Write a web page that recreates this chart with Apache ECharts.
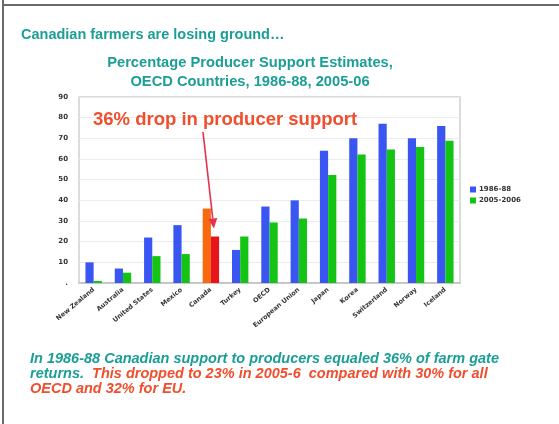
<!DOCTYPE html>
<html>
<head>
<meta charset="utf-8">
<script src="https://cdn.jsdelivr.net/npm/echarts@6/dist/echarts.min.js"></script>
<style>html,body{margin:0;padding:0;background:#fff}#c{width:559px;height:424px}</style>
</head>
<body>
<div id="c"></div>
<script>
var categories = ['New Zealand','Australia','United States','Mexico','Canada','Turkey','OECD','European Union','Japan','Korea','Switzerland','Norway','Iceland'];
var series1986 = [10,7,22,28,36,16,37,40,64,70,77,70,76];
var series2005 = [1,5,13,14,22.5,22.5,29.3,31.2,52.2,62.2,64.6,65.8,68.8];
var seriesNames = ['1986-88','2005-2006'];
var yTicks = [0,10,20,30,40,50,60,70,80,90];

var BLUE = '#3a56f2', GREEN = '#14c414', ORANGE = '#f8680e', RED = '#e8141c';
var TEAL = '#1a9e96', RED_T = '#f04e2c';
var FONT = '"Liberation Sans", Arial, sans-serif';

var chart = echarts.init(document.getElementById('c'), null, {renderer: 'canvas'});

function dataWithHighlight(arr, color) {
  return arr.map(function (v, i) {
    return categories[i] === 'Canada' ? {value: v, itemStyle: {color: color}} : v;
  });
}

var option = {
  backgroundColor: '#fff',
  animation: false,
  textStyle: {fontFamily: FONT},
  grid: {left: 79, right: 99, top: 97, bottom: 141, show: true, borderColor: '#d0d0d0', borderWidth: 1.5, backgroundColor: 'transparent'},
  legend: {
    orient: 'vertical', left: 465, top: 181, itemWidth: 6, itemHeight: 6, itemGap: 4,
    icon: 'rect',
    textStyle: {fontSize: 7, fontWeight: 'bold', color: '#333', fontFamily: '"DejaVu Sans", sans-serif', padding: [0,0,0,-2]},
    data: seriesNames
  },
  xAxis: {
    type: 'category', data: categories,
    axisLine: {lineStyle: {color: '#bdbdbd', width: 1.5}},
    axisTick: {show: false},
    axisLabel: {rotate: 40, interval: 0, fontSize: 6.5, fontWeight: 'bold', color: '#333', fontFamily: '"DejaVu Sans", sans-serif', margin: 6}
  },
  yAxis: {
    type: 'value', min: 0, max: 90, interval: 10,
    axisLine: {show: false}, axisTick: {show: false},
    splitLine: {lineStyle: {color: '#ececec', width: 1}},
    axisLabel: {fontSize: 7, fontWeight: 'bold', color: '#333', fontFamily: '"DejaVu Sans", sans-serif', margin: 11,
      formatter: function (v) { return v === 0 ? '.' : String(v); }}
  },
  series: [
    {name: seriesNames[0], type: 'bar', data: dataWithHighlight(series1986, ORANGE), itemStyle: {color: BLUE}, barGap: '0%', barCategoryGap: '44%'},
    {name: seriesNames[1], type: 'bar', data: dataWithHighlight(series2005, RED), itemStyle: {color: GREEN}}
  ],
  graphic: [
    {type: 'line', z: 100, shape: {x1: 3, y1: 0, x2: 3, y2: 424}, style: {stroke: '#6a6a6a', lineWidth: 2}, silent: true},
    {type: 'line', z: 100, shape: {x1: 2, y1: 5, x2: 559, y2: 5}, style: {stroke: '#6a6a6a', lineWidth: 2}, silent: true},
    {type: 'text', z: 100, left: 21, top: 27, style: {text: 'Canadian farmers are losing ground…', fill: TEAL, font: 'bold 14.5px ' + FONT}},
    {type: 'text', z: 100, x: 250, y: 54, style: {text: 'Percentage Producer Support Estimates,\nOECD Countries, 1986-88, 2005-06', fill: TEAL, font: 'bold 14.7px ' + FONT, textAlign: 'center', lineHeight: 18.5}},
    {type: 'text', z: 100, left: 93, top: 110, style: {text: '36% drop in producer support', fill: RED_T, font: 'bold 18.5px ' + FONT}},
    {type: 'text', z: 100, left: 30, top: 351, style: {
      text: '{t|In 1986-88 Canadian support to producers equaled 36% of farm gate}\n{t|returns.  }{r|This dropped to 23% in 2005-6  compared with 30% for all}\n{r|OECD and 32% for EU.}',
      rich: {
        t: {fill: TEAL, font: 'italic bold 14.5px ' + FONT, lineHeight: 15},
        r: {fill: RED_T, font: 'italic bold 14.5px ' + FONT, lineHeight: 15}
      }
    }}
  ]
};
chart.setOption(option);

// Arrow pointing at Canada's 2005-06 bar, position derived from the axes
var ci = categories.indexOf('Canada');
var tip = chart.convertToPixel({gridIndex: 0}, [ci, series2005[ci]]);
var tipX = tip[0] + 3, tipY = tip[1] - 8;
var startX = 203, startY = 132;
var ang = Math.atan2(tipY - startY, tipX - startX);
var hl = 10, hw = 4.5;
var bx = tipX - hl * Math.cos(ang), by = tipY - hl * Math.sin(ang);
var px = -Math.sin(ang) * hw, py = Math.cos(ang) * hw;
var ARROW = '#e8304c';
chart.setOption({graphic: option.graphic.concat([
  {type: 'line', z: 100, shape: {x1: startX, y1: startY, x2: bx, y2: by}, style: {stroke: ARROW, lineWidth: 1.6}, silent: true},
  {type: 'polygon', z: 100, shape: {points: [[tipX, tipY], [bx + px, by + py], [bx - px, by - py]]}, style: {fill: ARROW}, silent: true}
])});
</script>
</body>
</html>
